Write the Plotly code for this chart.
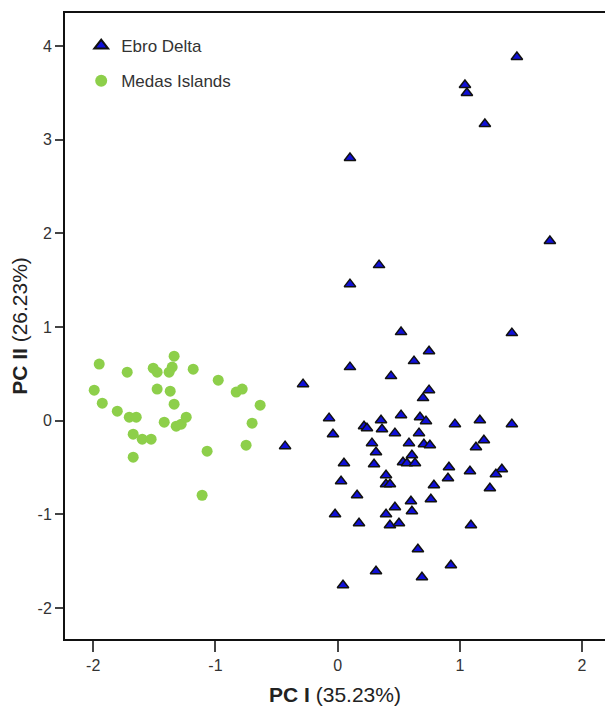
import plotly.graph_objects as go

ebro_x = [1.467, 1.042, 1.058, 1.205, 0.101, 1.737, 0.339, 0.101, 0.519, 1.426,
          0.748, 0.625, 0.101, 0.437, -0.283, 0.748, 0.699, -0.070, 0.355, 0.519,
          0.674, 0.723, 0.960, 1.164, 1.426, 0.216, 0.240, 0.363, 0.469, 0.666,
          -0.038, -0.430, 0.281, 0.584, 0.706, 0.755, 1.197, 1.132, 0.314, 0.608,
          0.052, 0.298, 0.535, 0.567, 0.633, 0.911, 1.083, 1.344, 1.295, 0.396,
          0.028, 0.903, 0.396, 0.428, 0.788, 1.246, 0.159, 0.600, 0.763, 0.469,
          0.396, 0.608, -0.021, 0.175, 0.428, 0.502, 1.091, 0.657, 0.927, 0.314,
          0.690, 0.044]
ebro_y = [3.884, 3.585, 3.499, 3.168, 2.804, 1.918, 1.661, 1.458, 0.946, 0.935,
          0.742, 0.636, 0.572, 0.476, 0.390, 0.326, 0.241, 0.027, 0.005, 0.059,
          0.037, -0.005, -0.037, 0.005, -0.037, -0.059, -0.080, -0.091, -0.133, -0.133,
          -0.144, -0.272, -0.240, -0.240, -0.251, -0.262, -0.208, -0.283, -0.337, -0.369,
          -0.454, -0.465, -0.443, -0.454, -0.454, -0.497, -0.540, -0.518, -0.572, -0.582,
          -0.647, -0.614, -0.678, -0.678, -0.689, -0.721, -0.796, -0.860, -0.839, -0.924,
          -0.999, -0.967, -0.999, -1.095, -1.117, -1.095, -1.117, -1.373, -1.544, -1.608,
          -1.672, -1.757]

medas_x = [-1.951, -1.722, -1.509, -1.477, -1.338, -1.354, -1.379, -1.182, -0.977, -0.830,
           -0.781, -0.634, -1.992, -1.926, -1.803, -1.705, -1.648, -1.477, -1.370, -1.338,
           -1.419, -1.321, -1.280, -1.239, -0.700, -1.673, -1.599, -1.526, -1.673, -1.068,
           -0.749, -1.109]
medas_y = [0.604, 0.518, 0.561, 0.518, 0.689, 0.572, 0.518, 0.550, 0.433, 0.305,
           0.337, 0.166, 0.326, 0.187, 0.102, 0.037, 0.037, 0.337, 0.315, 0.176,
           -0.016, -0.059, -0.037, 0.037, -0.027, -0.144, -0.198, -0.198, -0.390, -0.326,
           -0.262, -0.796]

x_ticks = [-2, -1, 0, 1, 2]
x_ticklabels = ["-2", "-1", "0", "1", "2"]
y_ticks = [-2, -1, 0, 1, 2, 3, 4]
y_ticklabels = ["-2", "-1", "0", "1", "2", "3", "4"]

FONT = "Liberation Sans Narrow, Liberation Sans, Arial, sans-serif"

fig = go.Figure()
fig.add_trace(go.Scatter(
    x=ebro_x, y=ebro_y, mode="markers", name="Ebro Delta", legendgroup="a",
    marker=dict(symbol="triangle-up", size=10, color="#1010d8",
                line=dict(color="#111111", width=1.5))))
fig.add_trace(go.Scatter(
    x=medas_x, y=medas_y, mode="markers", name="Medas Islands", legendgroup="b",
    marker=dict(symbol="circle", size=11, color="#8dcf4a",
                line=dict(width=0))))

fig.update_layout(
    width=605, height=712,
    margin=dict(l=65, r=0, t=13, b=73),
    paper_bgcolor="white", plot_bgcolor="white",
    font=dict(family=FONT, color="#333333"),
    showlegend=True,
    legend=dict(x=0.03, y=0.976, xanchor="left", yanchor="top",
                bgcolor="rgba(0,0,0,0)", font=dict(size=17, color="#333333"),
                itemsizing="constant", traceorder="grouped", tracegroupgap=10),
    xaxis=dict(range=[-2.231, 2.188], tickvals=x_ticks, ticktext=x_ticklabels,
               ticks="outside",
               ticklen=11, tickwidth=1.5, tickcolor="#444444",
               showline=True, linecolor="#111111", linewidth=2, mirror=True,
               showgrid=False, zeroline=False,
               tickfont=dict(size=16, color="#333333"),
               title=dict(text="<b>PC I</b> (35.23%)", font=dict(size=21, color="#222222"),
                          standoff=14)),
    yaxis=dict(range=[-2.331, 4.353], tickvals=y_ticks, ticktext=y_ticklabels,
               ticks="outside",
               ticklen=8, tickwidth=1.5, tickcolor="#444444",
               showline=True, linecolor="#111111", linewidth=2,
               showgrid=False, zeroline=False,
               tickfont=dict(size=16, color="#333333"),
               title=dict(text="<b>PC II</b> (26.23%)", font=dict(size=21, color="#222222"),
                          standoff=4)),
)

fig.write_html("out.html")
